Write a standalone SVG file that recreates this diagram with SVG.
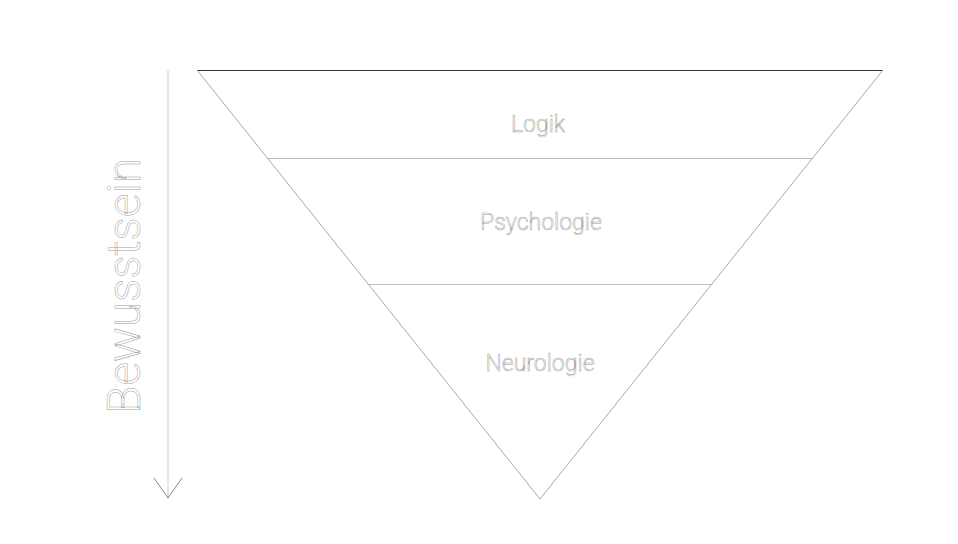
<svg xmlns="http://www.w3.org/2000/svg" width="958" height="544" viewBox="0 0 958 544">
<style>
.lbl{font-family:Roboto,"Liberation Sans",sans-serif;font-weight:300;fill:#fff;stroke:#a0a0a0;stroke-width:0.5;text-anchor:middle}
.side{stroke:#a8a8a8;stroke-width:1;fill:none}
.div{stroke:#bdbdbd;stroke-width:1;fill:none}
</style>
<rect width="958" height="544" fill="#fff"/>
<g id="connectors">
<line x1="168" y1="70" x2="168" y2="499" stroke="#d6d6d6" stroke-width="1.2"/>
<polyline points="154,478 168,498 182,478" fill="none" stroke="#8a8a8a" stroke-width="1"/>
</g>
<g id="triangle">
<line x1="197" y1="70.5" x2="883" y2="70.5" stroke="#333" stroke-width="1"/>
<line class="side" x1="197" y1="70" x2="540" y2="499"/>
<line class="side" x1="883" y1="70" x2="540" y2="499"/>
</g>
<g id="logik">
<line class="div" x1="268" y1="158.5" x2="812" y2="158.5"/>
<text class="lbl" x="538" y="132" font-size="23">Logik</text>
</g>
<g id="psychologie">
<line class="div" x1="369" y1="284.5" x2="711" y2="284.5"/>
<text class="lbl" x="541" y="230" font-size="23">Psychologie</text>
</g>
<g id="neurologie">
<text class="lbl" x="540" y="371" font-size="23">Neurologie</text>
</g>
<g id="bewusstsein">
<text class="lbl" x="0" y="0" font-size="46" transform="translate(140,286) rotate(-90)">Bewusstsein</text>
</g>
</svg>
